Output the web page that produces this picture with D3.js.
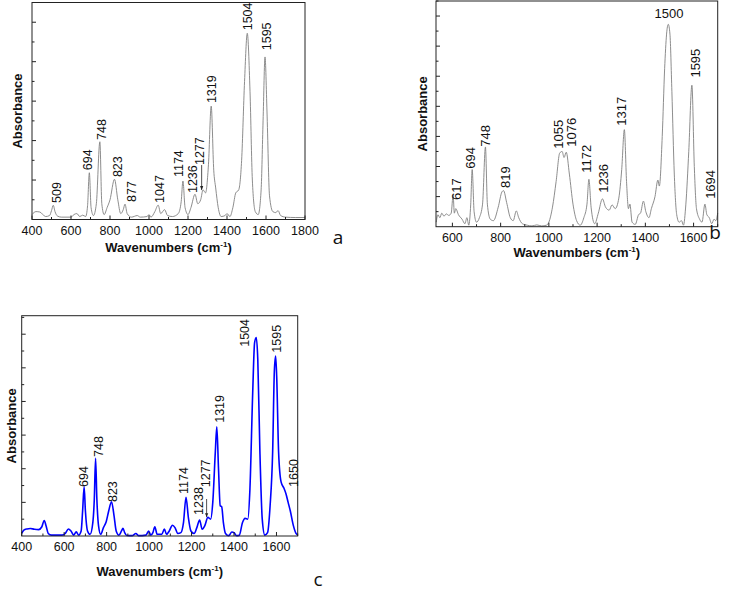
<!DOCTYPE html>
<html>
<head>
<meta charset="utf-8">
<script src="https://cdn.jsdelivr.net/npm/d3@7"></script>
<style>
  body { margin: 0; background: #fff; }
  svg { display: block; }
</style>
</head>
<body>
<script>
// Spectrum a: [wavenumber, absorbance]
const spectrumA = [
  [400, 0.25], [420, 0.4], [440, 0.38], [470, 0.15], [490, 0.2], [500, 0.45], [509, 0.72], [518, 0.4],
  [530, 0.18], [550, 0.12], [600, 0.12], [615, 0.25], [630, 0.3], [645, 0.15], [660, 0.22], [675, 0.15],
  [685, 0.7], [694, 2.37], [703, 0.6], [715, 0.2], [730, 0.8], [748, 3.94], [758, 0.8], [770, 0.25],
  [785, 0.6], [800, 1.0], [823, 2.04], [840, 1.0], [855, 0.3], [868, 0.5], [877, 0.78], [888, 0.3],
  [910, 0.12], [940, 0.2], [955, 0.12], [990, 0.15], [1000, 0.25], [1010, 0.12], [1030, 0.4], [1047, 0.73],
  [1060, 0.3], [1080, 0.5], [1095, 0.2], [1120, 0.15], [1150, 0.3], [1165, 0.9], [1174, 1.95], [1185, 0.6],
  [1200, 0.25], [1215, 0.6], [1236, 1.28], [1250, 0.8], [1265, 1.0], [1277, 1.5], [1290, 1.35], [1305, 2.8],
  [1319, 5.75], [1332, 2.5], [1342, 1.6], [1355, 0.6], [1370, 0.15], [1390, 0.2], [1400, 0.3], [1415, 0.15],
  [1430, 0.6], [1445, 1.35], [1460, 1.5], [1475, 3.0], [1490, 7.0], [1504, 9.44], [1518, 6.5], [1530, 2.0],
  [1545, 0.4], [1560, 0.25], [1575, 1.5], [1585, 5.0], [1595, 8.24], [1605, 5.5], [1618, 1.2], [1635, 0.4],
  [1650, 0.35], [1662, 0.45], [1675, 0.2], [1700, 0.12], [1750, 0.1], [1800, 0.1]
];

// Spectrum b
const spectrumB = [
  [533, 0.3], [540, 0.8], [548, 0.6], [556, 0.9], [565, 0.7], [575, 0.85], [585, 0.75], [595, 0.9],
  [603, 2.1], [608, 0.9], [614, 1.2], [625, 0.8], [640, 0.5], [652, 0.2], [660, 0.6], [668, 0.1],
  [676, 1.5], [682, 3.8], [690, 1.0], [700, 0.3], [712, 0.6], [725, 1.5], [737, 5.3], [745, 1.5],
  [757, 0.5], [770, 0.4], [790, 1.3], [805, 2.3], [812, 2.4], [825, 1.6], [840, 0.6], [852, 0.4],
  [865, 1.05], [875, 0.6], [890, 0.2], [910, 0.1], [930, 0.05], [950, 0.12], [970, 0.05], [990, 0.1],
  [1000, 0.3], [1015, 1.3], [1030, 3.0], [1045, 4.9], [1055, 5.0], [1063, 4.6], [1072, 4.95], [1085, 3.5],
  [1100, 1.5], [1115, 0.4], [1130, 0.1], [1145, 0.6], [1158, 1.5], [1166, 3.15], [1175, 1.3], [1190, 0.2],
  [1205, 0.9], [1222, 1.85], [1235, 1.3], [1250, 1.1], [1262, 1.45], [1275, 1.2], [1290, 1.9], [1302, 3.8],
  [1313, 6.45], [1322, 3.0], [1330, 1.2], [1336, 1.5], [1345, 0.3], [1358, 0.15], [1372, 0.8], [1380, 0.9],
  [1392, 1.7], [1402, 1.0], [1415, 0.6], [1425, 1.2], [1440, 2.0], [1452, 3.1], [1458, 2.7], [1470, 6.0],
  [1480, 10.5], [1488, 12.8], [1495, 13.45], [1502, 12.8], [1510, 9.0], [1520, 3.5], [1530, 0.8], [1540, 0.3],
  [1550, 0.4], [1558, 0.1], [1568, 1.5], [1580, 5.0], [1593, 9.4], [1603, 4.0], [1612, 1.2], [1625, 0.5],
  [1635, 0.3], [1647, 1.5], [1655, 0.8], [1665, 0.6], [1675, 0.2], [1685, 0.5], [1692, 0.4], [1700, 0.9]
];

// Spectrum c
const spectrumC = [
  [400, 0.15], [410, 0.35], [425, 0.42], [440, 0.45], [460, 0.4], [480, 0.38], [495, 0.55], [506, 0.92],
  [515, 0.6], [525, 0.15], [540, 0.05], [560, 0.05], [590, 0.05], [605, 0.15], [620, 0.42], [632, 0.3],
  [645, 0.05], [657, 0.25], [668, 0.05], [680, 0.3], [687, 1.5], [694, 2.94], [700, 1.5], [710, 0.3],
  [722, 0.1], [735, 0.8], [742, 2.2], [748, 4.62], [754, 2.2], [762, 0.6], [772, 0.1], [785, 0.5],
  [798, 0.85], [810, 1.5], [823, 2.04], [835, 1.2], [845, 0.3], [858, 0.05], [870, 0.3], [877, 0.46],
  [885, 0.2], [895, 0.03], [920, 0.02], [938, 0.15], [950, 0.02], [985, 0.05], [998, 0.3], [1008, 0.05],
  [1018, 0.2], [1027, 0.55], [1038, 0.1], [1060, 0.1], [1072, 0.42], [1082, 0.1], [1095, 0.3], [1110, 0.64],
  [1122, 0.5], [1135, 0.15], [1150, 0.2], [1162, 0.8], [1174, 2.3], [1185, 1.1], [1197, 0.3], [1212, 0.15],
  [1225, 0.5], [1238, 0.95], [1250, 0.4], [1262, 0.6], [1277, 1.11], [1290, 1.0], [1300, 2.0], [1312, 5.0],
  [1319, 6.5], [1327, 4.0], [1335, 1.8], [1342, 1.74], [1350, 0.8], [1360, 0.15], [1375, 0.02], [1390, 0.24],
  [1400, 0.2], [1412, 0.02], [1425, 0.05], [1440, 0.8], [1452, 1.05], [1465, 1.0], [1475, 2.8], [1488, 8.5],
  [1497, 11.5], [1505, 11.8], [1512, 10.5], [1522, 5.0], [1533, 1.0], [1545, 0.05], [1558, 0.2], [1570, 1.8],
  [1582, 5.0], [1590, 9.8], [1596, 10.7], [1601, 9.5], [1610, 5.0], [1622, 3.2], [1635, 2.85], [1645, 2.5],
  [1655, 2.0], [1665, 1.5], [1680, 0.6], [1692, 0.15], [1700, 0.05]
];

// Peak labels: [text, wavenumber, absorbance at the foot of the label]
const labelsA = [
  ["509", 527, 0.84], ["694", 684, 2.5], ["748", 757, 4.03], ["823", 837, 2.15], ["877", 911, 0.89],
  ["1047", 1053, 0.84], ["1174", 1150, 2.15], ["1236", 1224, 1.34], ["1277", 1258, 2.76],
  ["1319", 1322, 5.9], ["1504", 1504, 9.59], ["1595", 1604, 8.58]
];
const labelsB = [
  ["617", 615, 1.78], ["694", 673, 3.85], ["748", 735, 5.31], ["819", 820, 2.58], ["1055", 1038, 5.18],
  ["1076", 1095, 5.31], ["1172", 1154, 3.58], ["1236", 1226, 2.25], ["1317", 1302, 6.71],
  ["1595", 1606, 9.91], ["1694", 1668, 1.85]
];
const flatLabelsB = [["1500", 1498, 13.85]];
const labelsC = [
  ["694", 693, 2.92], ["748", 764, 4.7], ["823", 829, 2.02], ["1174", 1164, 2.5], ["1238", 1234, 1.25],
  ["1277", 1268, 2.9], ["1319", 1334, 6.73], ["1504", 1452, 11.25], ["1595", 1601, 10.9], ["1650", 1683, 2.92]
];
// Arrows: [wavenumber, from, to]
const arrowsA = [[1270, 2.76, 1.49]];
const arrowsC = [[1271, 2.2, 1.12]];

const ticksA = [400, 600, 800, 1000, 1200, 1400, 1600, 1800];
const ticksB = [600, 800, 1000, 1200, 1400, 1600];
const ticksC = [400, 600, 800, 1000, 1200, 1400, 1600];

const width = 752, height = 593;
const svg = d3.select("body").append("svg")
  .attr("width", width)
  .attr("height", height);

svg.append("defs").append("marker")
  .attr("id", "arrow")
  .attr("viewBox", "0 0 10 10")
  .attr("refX", 10).attr("refY", 5)
  .attr("markerWidth", 5).attr("markerHeight", 5)
  .attr("orient", "auto")
  .append("path")
  .attr("d", "M0,1 L10,5 L0,9 Z")
  .attr("fill", "#222");

const panels = [
  { data: spectrumA, labels: labelsA, flat: [], arrows: arrowsA, ticks: ticksA,
    left: 32, right: 305, top: 2.5, bottom: 219.5, xDomain: [400, 1800], yMax: 11,
    color: "#808080", lineWidth: 0.9, tickSize: 12.5, labelSize: 12.5,
    titleY: 252, yTitleX: 17, letter: "a", letterX: 338, letterY: 244 },
  { data: spectrumB, labels: labelsB, flat: flatLabelsB, arrows: [], ticks: ticksB,
    left: 436, right: 717.7, top: 1, bottom: 226.7, xDomain: [532, 1700], yMax: 15,
    color: "#808080", lineWidth: 0.9, tickSize: 12.5, labelSize: 13,
    titleY: 257, yTitleX: 422, letter: "b", letterX: 715, letterY: 239 },
  { data: spectrumC, labels: labelsC, flat: [], arrows: arrowsC, ticks: ticksC,
    left: 21.7, right: 297.7, top: 315.7, bottom: 536, xDomain: [400, 1700], yMax: 13.1,
    color: "#0000ff", lineWidth: 1.6, tickSize: 12.5, labelSize: 12.5,
    titleY: 576, yTitleX: 11, letter: "c", letterX: 318, letterY: 586 }
];

panels.forEach(p => {
  const x = d3.scaleLinear().domain(p.xDomain).range([p.left, p.right]);
  const y = d3.scaleLinear().domain([0, p.yMax]).range([p.bottom, p.top]);
  const g = svg.append("g");

  // spectrum line
  g.append("path")
    .datum(p.data)
    .attr("fill", "none")
    .attr("stroke", p.color)
    .attr("stroke-width", p.lineWidth)
    .attr("stroke-linejoin", "round")
    .attr("d", d3.line().x(d => x(d[0])).y(d => y(d[1])).curve(d3.curveMonotoneX));

  // frame
  g.append("rect")
    .attr("x", p.left).attr("y", p.top)
    .attr("width", p.right - p.left).attr("height", p.bottom - p.top)
    .attr("fill", "none").attr("stroke", "#222").attr("stroke-width", 1);

  // inward y ticks, major on even values
  d3.range(1, Math.floor(p.yMax) + 1).forEach(v => {
    const len = v % 2 === 0 ? 4 : 2.5;
    g.append("line")
      .attr("x1", p.left).attr("x2", p.left + len)
      .attr("y1", y(v)).attr("y2", y(v))
      .attr("stroke", "#222").attr("stroke-width", 1);
  });

  // inward x ticks every 100, labels on the major ones
  d3.range(Math.ceil(p.xDomain[0] / 100) * 100, p.xDomain[1] + 1, 100).forEach(v => {
    const major = p.ticks.includes(v);
    g.append("line")
      .attr("x1", x(v)).attr("x2", x(v))
      .attr("y1", p.bottom).attr("y2", p.bottom - (major ? 4 : 2.5))
      .attr("stroke", "#222").attr("stroke-width", 1);
  });
  g.selectAll(".tick-label")
    .data(p.ticks)
    .enter().append("text")
    .attr("x", d => x(d))
    .attr("y", p.bottom + 15)
    .attr("text-anchor", "middle")
    .attr("font-family", "Liberation Sans, Arial, sans-serif")
    .attr("font-size", p.tickSize)
    .attr("fill", "#111")
    .text(d => d);

  // axis titles
  const title = g.append("text")
    .attr("x", (p.left + p.right) / 2)
    .attr("y", p.titleY)
    .attr("text-anchor", "middle")
    .attr("font-family", "Liberation Sans, Arial, sans-serif")
    .attr("font-size", 13)
    .attr("font-weight", "bold")
    .attr("fill", "#111");
  title.append("tspan").text("Wavenumbers (cm");
  title.append("tspan").attr("font-size", 8).attr("dy", -5).text("-1");
  title.append("tspan").attr("dy", 5).text(")");

  g.append("text")
    .attr("transform", `translate(${p.yTitleX},${(p.top + p.bottom) / 2}) rotate(-90)`)
    .attr("dy", "0.35em")
    .attr("text-anchor", "middle")
    .attr("font-family", "Liberation Sans, Arial, sans-serif")
    .attr("font-size", 13)
    .attr("font-weight", "bold")
    .attr("fill", "#111")
    .text("Absorbance");

  // peak labels
  g.selectAll(".peak")
    .data(p.labels)
    .enter().append("text")
    .attr("transform", d => `translate(${x(d[1])},${y(d[2])}) rotate(-90)`)
    .attr("dy", "0.35em")
    .attr("font-family", "Liberation Sans, Arial, sans-serif")
    .attr("font-size", p.labelSize)
    .attr("fill", "#111")
    .text(d => d[0]);

  g.selectAll(".flat")
    .data(p.flat)
    .enter().append("text")
    .attr("x", d => x(d[1]))
    .attr("y", d => y(d[2]))
    .attr("text-anchor", "middle")
    .attr("font-family", "Liberation Sans, Arial, sans-serif")
    .attr("font-size", p.labelSize)
    .attr("fill", "#111")
    .text(d => d[0]);

  g.selectAll(".arrow")
    .data(p.arrows)
    .enter().append("line")
    .attr("x1", d => x(d[0])).attr("x2", d => x(d[0]))
    .attr("y1", d => y(d[1])).attr("y2", d => y(d[2]))
    .attr("stroke", "#222").attr("stroke-width", 0.8)
    .attr("marker-end", "url(#arrow)");

  // panel letter
  svg.append("text")
    .attr("x", p.letterX)
    .attr("y", p.letterY)
    .attr("text-anchor", "middle")
    .attr("font-family", "Open Sans, sans-serif")
    .attr("font-size", 19)
    .attr("fill", "#111")
    .text(p.letter);
});
</script>
</body>
</html>
